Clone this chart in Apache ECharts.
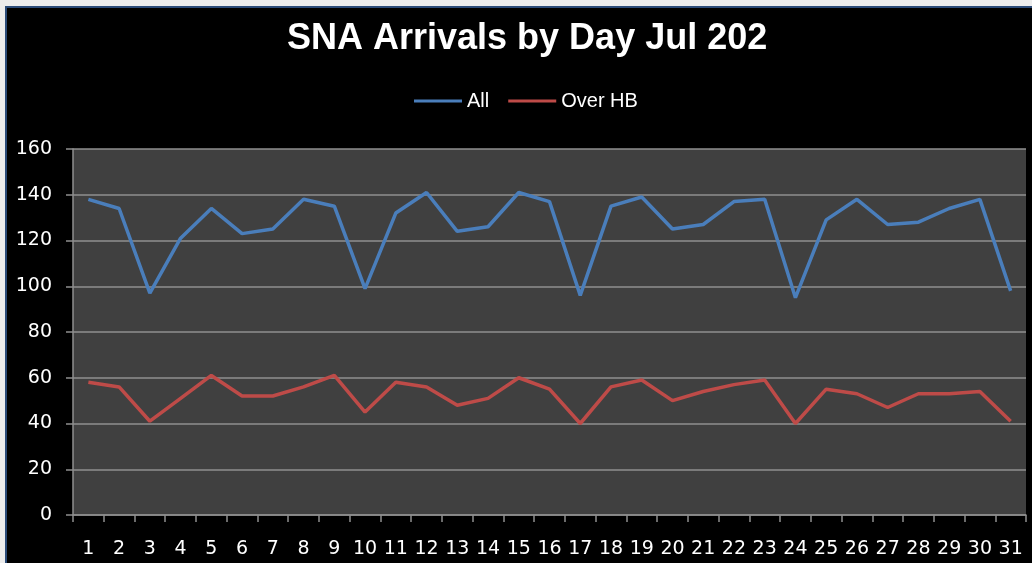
<!DOCTYPE html>
<html><head><meta charset="utf-8">
<script src="https://cdn.jsdelivr.net/npm/echarts@6/dist/echarts.min.js"></script>
<style>
html,body{margin:0;padding:0;background:#000;overflow:hidden;}
#chart{position:absolute;left:0;top:0;width:1032px;height:563px;}
.strip{position:absolute;background:#ececec;}
.bord{position:absolute;background:#2b4b78;}
</style>
</head><body>
<div id="chart"></div>
<div class="strip" style="left:0;top:0;width:1032px;height:6px;"></div>
<div class="strip" style="left:0;top:0;width:5px;height:563px;"></div>
<div class="bord" style="left:5px;top:6px;width:1027px;height:2px;"></div>
<div class="bord" style="left:5px;top:6px;width:2px;height:557px;"></div>
<script>
const titleText = 'SNA Arrivals by Day Jul 202';
const days = ['1','2','3','4','5','6','7','8','9','10','11','12','13','14','15','16','17','18','19','20','21','22','23','24','25','26','27','28','29','30','31'];
const allArrivals = [138,134,97,121,134,123,125,138,135,99,132,141,124,126,141,137,96,135,139,125,127,137,138,95,129,138,127,128,134,138,98];
const overHB = [58,56,41,51,61,52,52,56,61,45,58,56,48,51,60,55,40,56,59,50,54,57,59,40,55,53,47,53,53,54,41];
const seriesNames = ['All','Over HB'];

const chart = echarts.init(document.getElementById('chart'), null, {renderer:'canvas'});
const gridColor = '#8f8f8f';
chart.setOption({
  backgroundColor: '#000000',
  animation: false,
  title: {
    text: titleText,
    left: 287, top: 21, padding: 0,
    textStyle: {color:'#ffffff', fontSize:36, fontWeight:'bold', fontFamily:'Liberation Sans'}
  },
  legend: {
    data: seriesNames,
    left: 414, top: 91, padding: 0,
    icon: 'rect', itemWidth: 48, itemHeight: 3, itemGap: 19,
    textStyle: {color:'#ffffff', fontSize:20, fontFamily:'Liberation Sans'}
  },
  grid: {
    left: 73, right: 6, top: 149, bottom: 48,
    show: true, backgroundColor: '#404040', borderWidth: 0,
    containLabel: false, outerBoundsMode: 'none'
  },
  xAxis: {
    type: 'category', data: days, boundaryGap: true,
    axisLine: {show:true, lineStyle:{color:gridColor, width:1.5}},
    axisTick: {show:true, interval:0, length:7, lineStyle:{color:gridColor, width:1.5}},
    axisLabel: {interval:0, color:'#ffffff', fontSize:19, fontFamily:'DejaVu Sans', margin:25},
    splitLine: {show:false}
  },
  yAxis: {
    type: 'value', min: 0, max: 160, interval: 20,
    axisLine: {show:true, lineStyle:{color:gridColor, width:1.5}},
    axisTick: {show:true, length:7, lineStyle:{color:gridColor, width:1.5}},
    axisLabel: {color:'#ffffff', fontSize:19, fontFamily:'DejaVu Sans', margin:21},
    splitLine: {show:true, lineStyle:{color:gridColor, width:1.5}}
  },
  series: [
    {name: seriesNames[0], type:'line', data: allArrivals, symbol:'none', color:'#4a7ebb', lineStyle:{width:3.5, color:'#4a7ebb'}},
    {name: seriesNames[1], type:'line', data: overHB, symbol:'none', color:'#be4b48', lineStyle:{width:3.5, color:'#be4b48'}}
  ]
});
</script>
</body></html>
